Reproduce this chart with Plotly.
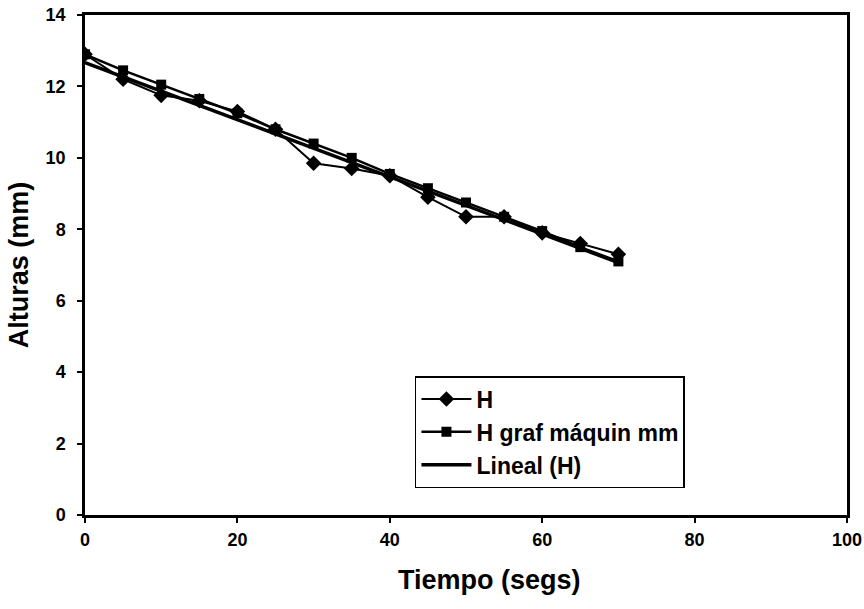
import numpy as np
import plotly.graph_objects as go

tiempo = [0, 5, 10, 15, 20, 25, 30, 35, 40, 45, 50, 55, 60, 65, 70]
h_values = [12.9, 12.2, 11.75, 11.6, 11.3, 10.8, 9.85, 9.7, 9.5, 8.9, 8.35, 8.35, 7.9, 7.6, 7.3]
h_maquina = [12.9, 12.45, 12.05, 11.65, 11.25, 10.8, 10.4, 10.0, 9.55, 9.15, 8.75, 8.35, 7.95, 7.5, 7.1]
x_ticks = [0, 20, 40, 60, 80, 100]
y_ticks = [0, 2, 4, 6, 8, 10, 12, 14]

slope, intercept = np.polyfit(tiempo, h_values, 1)
lineal = [slope * t + intercept for t in tiempo]

font_main = "Liberation Sans, Arial, sans-serif"

fig = go.Figure()
fig.add_trace(go.Scatter(
    x=tiempo, y=h_values, mode="lines+markers", name="H",
    line=dict(color="black", width=2),
    marker=dict(symbol="diamond", size=12, color="black"),
))
fig.add_trace(go.Scatter(
    x=tiempo, y=h_maquina, mode="lines+markers", name="H graf máquin mm",
    line=dict(color="black", width=2.5),
    marker=dict(symbol="square", size=10, color="black"),
))
fig.add_trace(go.Scatter(
    x=tiempo, y=lineal, mode="lines", name="Lineal (H)",
    line=dict(color="black", width=3.5),
))

fig.update_layout(
    width=864, height=609,
    margin=dict(l=85, r=17, t=15, b=94),
    paper_bgcolor="white", plot_bgcolor="white",
    font=dict(family=font_main, color="black", size=18),
    showlegend=True,
    legend=dict(
        x=0.433, y=0.054, xanchor="left", yanchor="bottom",
        bgcolor="white", bordercolor="black", borderwidth=1.5,
        font=dict(family=font_main, size=23, color="black", weight="bold"),
        itemwidth=50, tracegroupgap=0,
    ),
    annotations=[dict(
        text="<b>Tiempo (segs)</b>", xref="paper", yref="paper",
        x=0.531, y=0, yshift=-65, xanchor="center", yanchor="middle",
        showarrow=False, font=dict(family=font_main, size=27, color="black"),
    )],
)
fig.update_xaxes(
    range=[0, 100], tickvals=x_ticks, automargin=False,
    showgrid=False, zeroline=False,
    showline=True, linecolor="black", linewidth=2.5, mirror=True,
    ticks="outside", ticklen=5, tickcolor="black", tickwidth=1.5,
    ticklabelstandoff=2, ticklabeloverflow="allow",
    tickfont=dict(family=font_main, size=18, color="black", weight="bold"),
)
fig.update_yaxes(
    range=[0, 14], tickvals=y_ticks, automargin=False,
    showgrid=False, zeroline=False,
    showline=True, linecolor="black", linewidth=2.5, mirror=True,
    ticks="outside", ticklen=5, tickcolor="black", tickwidth=1.5,
    ticklabelstandoff=8, ticklabeloverflow="allow",
    tickfont=dict(family=font_main, size=18, color="black", weight="bold"),
    title=dict(text="<b>Alturas (mm)</b>", standoff=10,
               font=dict(family=font_main, size=27, color="black")),
)

fig.write_html(
    "out.html",
    config={"displayModeBar": False},
    post_script="document.body.style.margin='0px';document.body.style.overflow='hidden';",
)
